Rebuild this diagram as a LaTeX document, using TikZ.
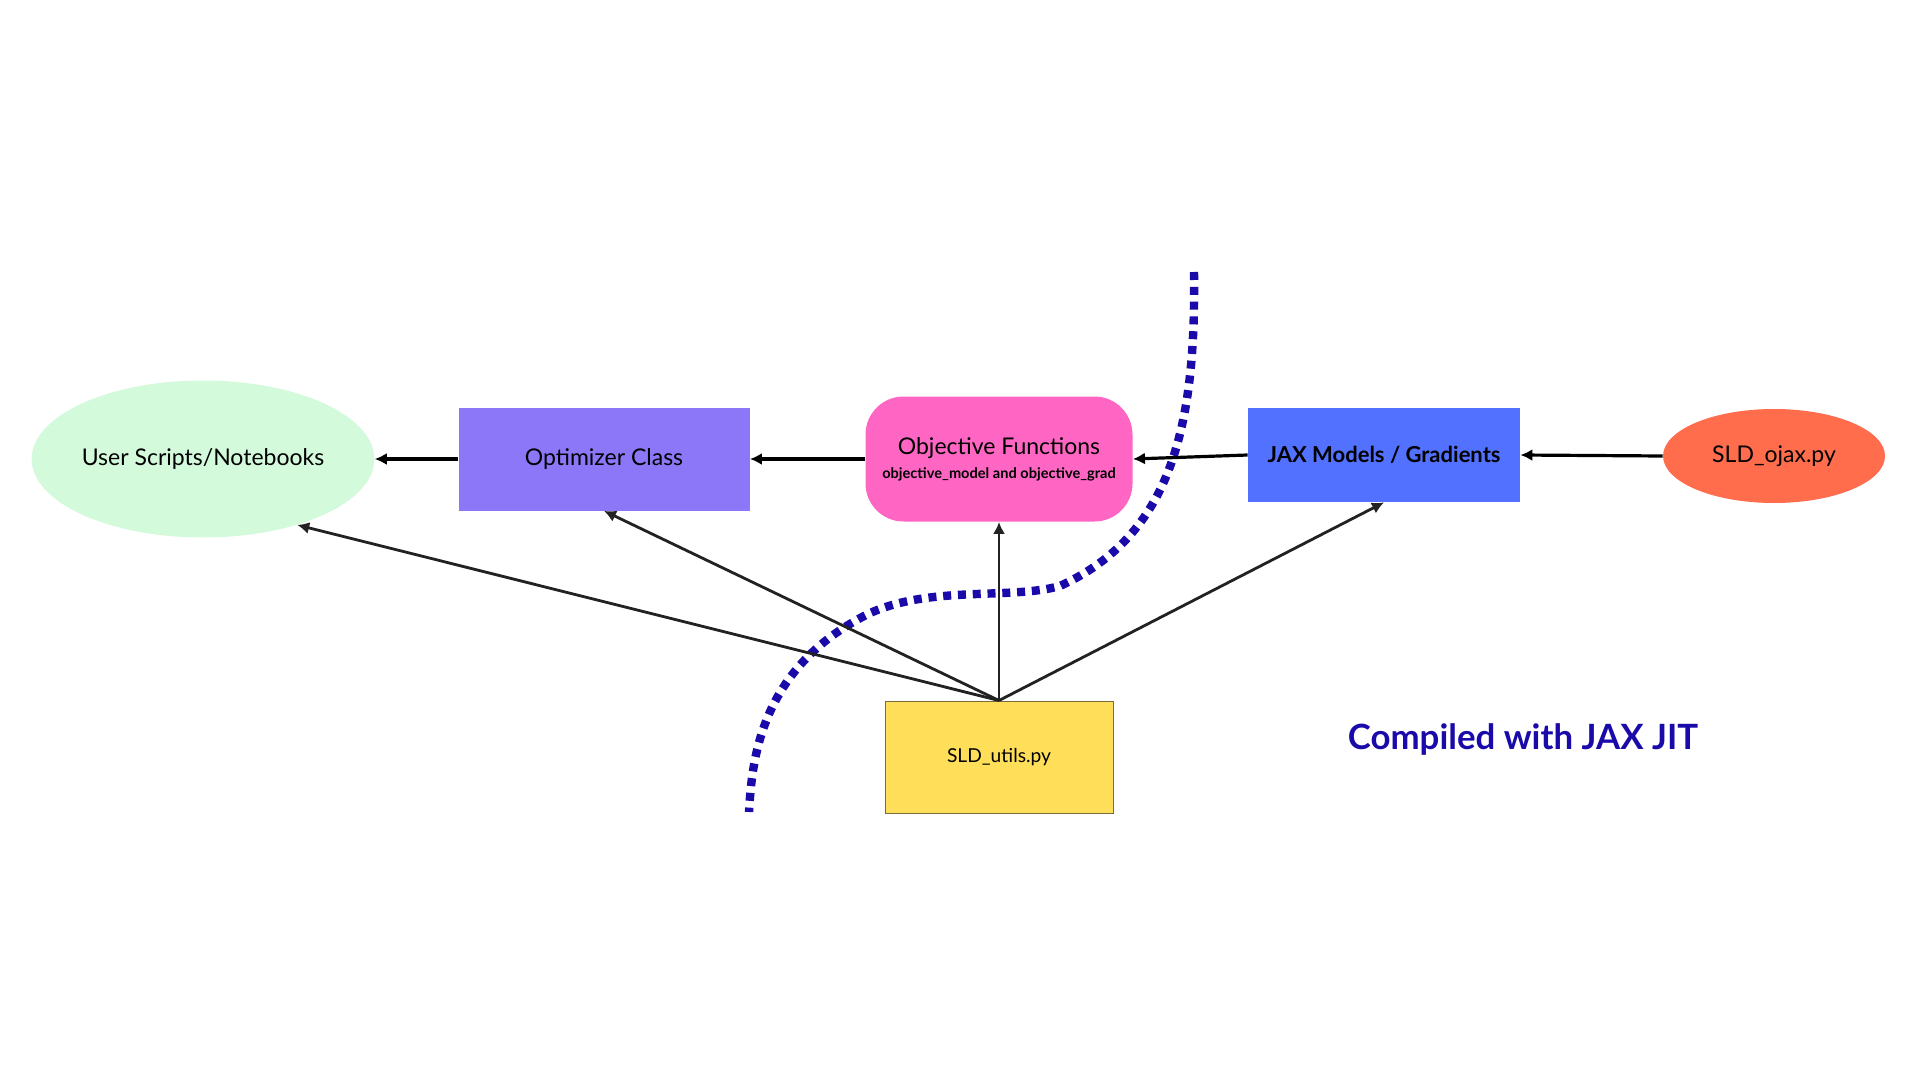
\documentclass[tikz,border=0pt]{standalone}
\usepackage{fontspec}
\setmainfont{Lato}
\usepackage{tikz}
\usetikzlibrary{arrows.meta,calc,positioning,shapes.geometric}
\definecolor{usergreen}{HTML}{D4FADC}
\definecolor{optpurple}{HTML}{8C77F8}
\definecolor{objpink}{HTML}{FF66C4}
\definecolor{jaxblue}{HTML}{5271FF}
\definecolor{ojaxred}{HTML}{FF6D4D}
\definecolor{utilyellow}{HTML}{FFDE59}
\definecolor{utilborder}{HTML}{7A6A3A}
\definecolor{jitblue}{HTML}{1A0AAA}
\definecolor{linkgray}{HTML}{222222}
\tikzset{
    flow ellipse/.style={
        ellipse,
        inner sep=0pt,
        align=center,
        font=\fontsize{11.5}{14}\selectfont
    },
    flow box/.style={
        rectangle,
        inner sep=0pt,
        align=center,
        font=\fontsize{11.5}{14}\selectfont
    },
    flow link/.style={-{Latex[length=6pt,width=6pt]}, line width=1.6pt, black},
    util link/.style={-{Latex[length=6pt,width=6pt]}, line width=1.4pt, linkgray},
    jit border/.style={jitblue, line width=4.2pt, dash pattern=on 4pt off 3.4pt}
}
\begin{document}
\begin{tikzpicture}[x=0.5pt,y=-0.5pt]
    \useasboundingbox[fill=white] (0,0) rectangle (1920,1080);

    \node[flow ellipse, fill=usergreen, minimum width=169pt, minimum height=78.5pt] (user) at (203,459) {User Scripts/Notebooks};
    \node[flow box, fill=optpurple, minimum width=145.5pt, minimum height=51.5pt] (opt) at (604,459) {Optimizer Class};
    \node[flow box, fill=objpink, rounded corners=19pt, minimum width=133.5pt, minimum height=62.5pt] (obj) at (999,459) {Objective Functions\\[-2pt]{\fontsize{7.3}{9}\selectfont\bfseries objective\_model and objective\_grad}};
    \node[flow box, fill=jaxblue, minimum width=136pt, minimum height=47pt, font=\fontsize{11}{14}\selectfont\bfseries] (jax) at (1384,455) {JAX Models / Gradients};
    \node[flow ellipse, fill=ojaxred, minimum width=111pt, minimum height=47pt] (ojax) at (1774,456) {SLD\_ojax.py};
    \node[flow box, fill=utilyellow, draw=utilborder, line width=0.5pt, minimum width=114pt, minimum height=56pt, font=\fontsize{9.6}{11}\selectfont] (utils) at (999,757) {SLD\_utils.py};
    \node[font=\fontsize{17.4}{21}\selectfont\bfseries, text=jitblue] (jit) at (1523,739) {Compiled with JAX JIT};

    \draw[jit border] (1194,272) .. controls (1196,425) and (1172,535) .. (1060,586)
        .. controls (1010,600) and (930,585) .. (868,614)
        .. controls (760,668) and (752,760) .. (749,812);

    \draw[flow link] (opt.west) -- (user.east);
    \draw[flow link] (obj.west) -- (opt.east);
    \draw[flow link] (jax.west) -- (obj.east);
    \draw[flow link] (ojax.west) -- (jax.east);

    \draw[util link] (utils.north) -- (user.-35);
    \draw[util link] (utils.north) -- (opt.south);
    \draw[util link] (utils.north) -- (obj.south);
    \draw[util link] (utils.north) -- (jax.south);
\end{tikzpicture}
\end{document}
